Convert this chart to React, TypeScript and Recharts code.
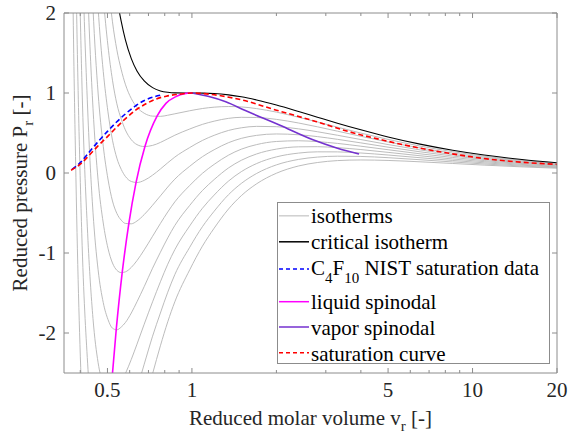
import React from 'react';
import { ComposedChart, Line, XAxis, YAxis, Legend } from 'recharts';

// reduced molar volume grid shared by the isotherms
const V_GRID = [
  0.367, 0.376, 0.386, 0.405, 0.425, 0.444, 0.463, 0.483, 0.502, 0.521, 0.54, 0.56, 0.579, 0.608, 0.637,
  0.676, 0.724, 0.772, 0.82, 0.869, 0.982, 1.09, 1.2, 1.35, 1.5, 1.7, 2.0, 2.4, 2.8, 3.3, 4.0, 5.0, 6.5,
  8.5, 11, 15, 20,
];

// reduced pressure of each isotherm on V_GRID
const ISO_1 = [6.34, 2.43, -0.06, -2.82, -4.09, -4.65, -4.84, -4.84, -4.72, -4.56, -4.36, -4.14, -3.92, -3.59, -3.29, -2.91, -2.51, -2.16, -1.86, -1.61, -1.21, -0.914, -0.69, -0.45, -0.283, -0.135, -0.003, 0.088, 0.131, 0.155, 0.163, 0.157, 0.14, 0.119, 0.0985, 0.0767, 0.0598];
const ISO_2 = [9.93, 5.44, 2.53, -0.76, -2.385, -3.195, -3.57, -3.71, -3.705, -3.635, -3.51, -3.36, -3.19, -2.94, -2.7, -2.39, -2.04, -1.75, -1.49, -1.27, -0.928, -0.671, -0.478, -0.271, -0.13, -0.006, 0.1015, 0.17, 0.199, 0.21, 0.207, 0.1915, 0.166, 0.138, 0.113, 0.087, 0.0674];
const ISO_3 = [13.41, 8.35, 5.03, 1.19, -0.76, -1.82, -2.37, -2.64, -2.75, -2.77, -2.71, -2.62, -2.51, -2.33, -2.14, -1.89, -1.61, -1.36, -1.14, -0.958, -0.661, -0.441, -0.276, -0.101, 0.017, 0.118, 0.2015, 0.249, 0.2645, 0.264, 0.25, 0.225, 0.191, 0.1565, 0.127, 0.0973, 0.0751];
const ISO_4 = [16.81, 11.18, 7.47, 3.09, 0.8, -0.49, -1.21, -1.62, -1.83, -1.94, -1.96, -1.925, -1.87, -1.75, -1.61, -1.42, -1.19, -0.991, -0.811, -0.656, -0.405, -0.219, -0.082, 0.0635, 0.159, 0.238, 0.2987, 0.327, 0.329, 0.317, 0.293, 0.258, 0.2156, 0.175, 0.1413, 0.1076, 0.0827];
const ISO_5 = [20.18, 13.97, 9.86, 4.95, 2.33, 0.81, -0.09, -0.625, -0.94, -1.125, -1.216, -1.245, -1.236, -1.18, -1.095, -0.961, -0.791, -0.631, -0.487, -0.361, -0.156, -0.004, 0.108, 0.223, 0.298, 0.355, 0.394, 0.403, 0.392, 0.37, 0.335, 0.291, 0.24, 0.194, 0.155, 0.118, 0.0903];
const ISO_6 = [23.47, 16.7, 12.19, 6.77, 3.805, 2.06, 1.0, 0.335, -0.075, -0.35, -0.505, -0.59, -0.63, -0.635, -0.6, -0.52, -0.403, -0.286, -0.175, -0.077, 0.084, 0.204, 0.291, 0.379, 0.433, 0.4705, 0.488, 0.478, 0.455, 0.421, 0.3765, 0.323, 0.265, 0.212, 0.1695, 0.128, 0.0979];
const ISO_7 = [26.74, 19.4, 14.49, 8.54, 5.25, 3.29, 2.065, 1.27, 0.765, 0.41, 0.186, 0.045, -0.042, -0.106, -0.119, -0.092, -0.027, 0.05, 0.128, 0.199, 0.318, 0.407, 0.471, 0.532, 0.565, 0.583, 0.579, 0.5516, 0.516, 0.472, 0.418, 0.3555, 0.289, 0.23, 0.1834, 0.138, 0.1055];
const ISO_8 = [29.97, 22.07, 16.77, 10.31, 6.69, 4.5, 3.11, 2.2, 1.59, 1.16, 0.865, 0.673, 0.539, 0.416, 0.355, 0.331, 0.345, 0.382, 0.428, 0.472, 0.55, 0.608, 0.648, 0.683, 0.696, 0.694, 0.6705, 0.625, 0.5775, 0.523, 0.4586, 0.3877, 0.3133, 0.2486, 0.1974, 0.1483, 0.113];
const ISO_9 = [33.18, 24.72, 19.03, 12.05, 8.11, 5.7, 4.15, 3.11, 2.41, 1.89, 1.54, 1.29, 1.11, 0.93, 0.822, 0.747, 0.711, 0.708, 0.722, 0.74, 0.778, 0.806, 0.823, 0.831, 0.826, 0.805, 0.761, 0.697, 0.638, 0.573, 0.499, 0.42, 0.337, 0.267, 0.211, 0.158, 0.1206];
const CRITICAL = [36.36, 27.34, 21.25, 13.76, 9.5, 6.87, 5.16, 4.0, 3.2, 2.61, 2.194, 1.892, 1.667, 1.43, 1.276, 1.151, 1.067, 1.026, 1.009, 1.002, 1.0, 0.999, 0.994, 0.977, 0.953, 0.913, 0.85, 0.769, 0.698, 0.623, 0.54, 0.451, 0.361, 0.285, 0.225, 0.1685, 0.128];

const ISOTHERMS = [ISO_1, ISO_2, ISO_3, ISO_4, ISO_5, ISO_6, ISO_7, ISO_8, ISO_9];

const LIQ_SPIN_V = [0.513, 0.5375, 0.5645, 0.5954, 0.632, 0.68, 0.751, 0.808, 0.877, 0.94, 1.0];
const LIQ_SPIN_P = [-2.78, -1.95, -1.24, -0.64, -0.12, 0.33, 0.71, 0.87, 0.955, 0.992, 1.0];

const VAP_SPIN_V = [1.0, 1.15, 1.32, 1.55, 2.05, 2.7, 3.3, 3.94];
const VAP_SPIN_P = [1.0, 0.955, 0.89, 0.78, 0.6, 0.415, 0.31, 0.238];

const NIST_V = [0.374, 0.4, 0.43, 0.46, 0.5, 0.54, 0.58, 0.63, 0.68, 0.73, 0.78];
const NIST_P = [0.045, 0.13, 0.26, 0.38, 0.52, 0.64, 0.74, 0.84, 0.91, 0.95, 0.975];

const SAT_V = [0.371, 0.4, 0.43, 0.46, 0.5, 0.54, 0.58, 0.63, 0.69, 0.745, 0.81, 0.9, 1.0, 1.15, 1.5, 2.0, 2.76, 3.63, 4.77, 6.27, 8.24, 10.8, 14.2, 20];
const SAT_P = [0.035, 0.11, 0.22, 0.33, 0.455, 0.575, 0.68, 0.785, 0.87, 0.925, 0.96, 0.985, 1.0, 0.985, 0.915, 0.785, 0.645, 0.516, 0.4125, 0.321, 0.246, 0.184, 0.141, 0.108];

const X_TICKS = [0.4, 0.5, 0.6, 0.7, 0.8, 0.9, 1, 2, 3, 4, 5, 6, 7, 8, 9, 10, 20];
const X_TICK_LABELS: Record<string, string> = { '0.5': '0.5', '1': '1', '5': '5', '10': '10', '20': '20' };
const Y_TICKS = [-2, -1, 0, 1, 2];

const FONT = '"Liberation Serif", "Times New Roman", Times, serif';
const AXIS = '#8c8c8c';
const INK = '#262626';
const GRAY = '#b4b4b4';
const PURPLE = '#7431cf';
const TXT = { fontFamily: FONT, fontSize: 21 };

const isoRows = V_GRID.map((v, i) => {
  const row: Record<string, number> = { v, crit: CRITICAL[i] };
  ISOTHERMS.forEach((iso, k) => {
    row[`t${k + 1}`] = iso[i];
  });
  return row;
});
const toRows = (vs: number[], ps: number[]) => vs.map((v, i) => ({ v, p: ps[i] }));
const liqRows = toRows(LIQ_SPIN_V, LIQ_SPIN_P);
const vapRows = toRows(VAP_SPIN_V, VAP_SPIN_P);
const nistRows = toRows(NIST_V, NIST_P);
const satRows = toRows(SAT_V, SAT_P);

const isMajor = (v: number) => X_TICK_LABELS[String(v)] !== undefined;

const BottomTick = ({ x, y, payload }: any) => {
  const label = X_TICK_LABELS[String(payload.value)];
  return (
    <g>
      <line x1={x} x2={x} y1={y} y2={y - (label ? 5 : 3)} stroke={AXIS} />
      {label && (
        <text x={x} y={y + 24} textAnchor="middle" style={TXT} fill={INK}>
          {label}
        </text>
      )}
    </g>
  );
};

const TopTick = ({ x, y, payload }: any) => (
  <line x1={x} x2={x} y1={y} y2={y + (isMajor(payload.value) ? 5 : 3)} stroke={AXIS} />
);

const LeftTick = ({ x, y, payload }: any) => (
  <g>
    <line x1={x} x2={x + 5} y1={y} y2={y} stroke={AXIS} />
    <text x={x - 8} y={y + 7} textAnchor="end" style={TXT} fill={INK}>
      {String(payload.value)}
    </text>
  </g>
);

const RightTick = ({ x, y }: any) => <line x1={x} x2={x - 5} y1={y} y2={y} stroke={AXIS} />;

const XTitle = () => (
  <text x={310.5} y={425} textAnchor="middle" style={TXT} fill={INK}>
    Reduced molar volume v
    <tspan dy={6} style={{ fontSize: 15 }}>r</tspan>
    <tspan dy={-6}> [-]</tspan>
  </text>
);

const YTitle = () => (
  <text transform="rotate(-90)" x={-193} y={27} textAnchor="middle" style={TXT} fill={INK}>
    Reduced pressure P
    <tspan dy={6} style={{ fontSize: 15 }}>r</tspan>
    <tspan dy={-6}> [-]</tspan>
  </text>
);

const LegendBox = () => {
  const rows = [
    { base: 21.3, line: 13.8, color: '#cfcfcf', dash: undefined, text: 'isotherms' },
    { base: 47.3, line: 39.8, color: '#000', dash: undefined, text: 'critical isotherm' },
    { base: 73, line: 67, color: '#0000ff', dash: '4 3', text: '' },
    { base: 107.3, line: 99.7, color: '#ff00ff', dash: undefined, text: 'liquid spinodal' },
    { base: 133, line: 125, color: PURPLE, dash: undefined, text: 'vapor spinodal' },
    { base: 158.7, line: 150.7, color: '#ff0000', dash: '4 3', text: 'saturation curve' },
  ];
  return (
    <svg width={274} height={170} style={{ display: 'block', overflow: 'visible' }}>
      <rect x={0.5} y={0.5} width={272} height={161} fill="#fff" stroke={AXIS} />
      {rows.map((r, i) => (
        <g key={i}>
          <line x1={2} x2={32} y1={r.line} y2={r.line} stroke={r.color} strokeWidth={1.5} strokeDasharray={r.dash} />
          <text x={34} y={r.base} style={TXT} fill="#000">
            {r.text ? (
              r.text
            ) : (
              <>
                C<tspan dy={8} style={{ fontSize: 15 }}>4</tspan>
                <tspan dy={-8}>F</tspan>
                <tspan dy={8} style={{ fontSize: 15 }}>10</tspan>
                <tspan dy={-8}> NIST saturation data</tspan>
              </>
            )}
          </text>
        </g>
      ))}
    </svg>
  );
};

export default function App() {
  return (
    <div style={{ position: 'absolute', left: 0, top: 0, width: 570, height: 439, background: '#fff' }}>
      <ComposedChart width={570} height={439} margin={{ top: 12, right: 12, bottom: 65, left: 63 }}>
        <XAxis
          dataKey="v"
          type="number"
          scale="log"
          domain={[0.35, 20]}
          allowDataOverflow
          ticks={X_TICKS}
          interval={0}
          height={1}
          tickSize={0}
          tickMargin={0}
          tickLine={false}
          axisLine={{ stroke: AXIS }}
          tick={<BottomTick />}
          label={<XTitle />}
        />
        <XAxis
          xAxisId="top"
          orientation="top"
          dataKey="v"
          type="number"
          scale="log"
          domain={[0.35, 20]}
          allowDataOverflow
          ticks={X_TICKS}
          interval={0}
          height={1}
          tickSize={0}
          tickMargin={0}
          tickLine={false}
          axisLine={{ stroke: AXIS }}
          tick={<TopTick />}
        />
        <YAxis
          type="number"
          domain={[-2.5, 2]}
          allowDataOverflow
          ticks={Y_TICKS}
          interval={0}
          width={1}
          tickSize={0}
          tickMargin={0}
          tickLine={false}
          axisLine={{ stroke: AXIS }}
          tick={<LeftTick />}
          label={<YTitle />}
        />
        <YAxis
          yAxisId="right"
          orientation="right"
          type="number"
          domain={[-2.5, 2]}
          allowDataOverflow
          ticks={Y_TICKS}
          interval={0}
          width={1}
          tickSize={0}
          tickMargin={0}
          tickLine={false}
          axisLine={{ stroke: AXIS }}
          tick={<RightTick />}
        />
        {ISOTHERMS.map((_, k) => (
          <Line
            key={`t${k + 1}`}
            data={isoRows}
            dataKey={`t${k + 1}`}
            type="monotone"
            stroke={GRAY}
            strokeWidth={0.9}
            dot={false}
            activeDot={false}
            isAnimationActive={false}
          />
        ))}
        <Line data={isoRows} dataKey="crit" type="monotone" stroke="#000" strokeWidth={1.1} dot={false} activeDot={false} isAnimationActive={false} />
        <Line data={nistRows} dataKey="p" type="monotone" stroke="#0000ff" strokeWidth={1.6} strokeDasharray="5 3" dot={false} activeDot={false} isAnimationActive={false} />
        <Line data={liqRows} dataKey="p" type="monotone" stroke="#ff00ff" strokeWidth={1.6} dot={false} activeDot={false} isAnimationActive={false} />
        <Line data={vapRows} dataKey="p" type="monotone" stroke={PURPLE} strokeWidth={1.6} dot={false} activeDot={false} isAnimationActive={false} />
        <Line data={satRows} dataKey="p" type="monotone" stroke="#ff0000" strokeWidth={1.6} strokeDasharray="5 3" dot={false} activeDot={false} isAnimationActive={false} />
        <Legend
          layout="vertical"
          align="center"
          verticalAlign="middle"
          content={<LegendBox />}
          wrapperStyle={{ position: 'absolute', left: 277, top: 202, width: 274, height: 170 }}
        />
      </ComposedChart>
    </div>
  );
}
